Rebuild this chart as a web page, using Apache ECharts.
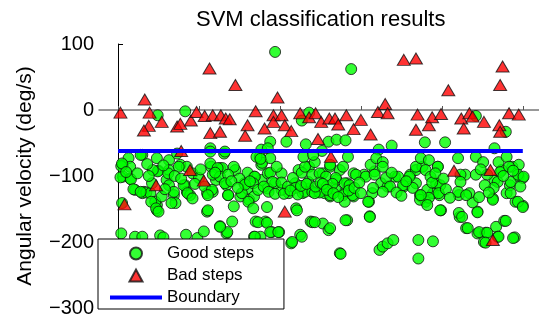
<!DOCTYPE html>
<html>
<head>
<meta charset="utf-8">
<script src="https://cdn.jsdelivr.net/npm/echarts@6/dist/echarts.min.js"></script>
<style>
  html, body { margin: 0; padding: 0; background: #fff; }
  #chart { width: 539px; height: 320px; }
</style>
</head>
<body>
<div id="chart"></div>
<script>
// step index, angular velocity (deg/s)
const goodSteps = [
  [194,88],[288,62],[49,-8],[83,-2],[227,-16],[236,-4],[114,-58],[131,-66],[188,-48],[208,-48],
  [232,-52],[260,-48],[270,-45],[281,-46],[338,-54],[322,-60],[379,-49],[404,-49],[442,-9],[479,-33],
  [465,-58],[252,-62],[177,-60],[185,-58],
  [30,-68],[13,-73],[6,-83],[15,-86],[6,-101],[15,-104],[21,-121],[32,-124],[30,-126],[35,-125],
  [40,-126],[48,-73],[50,-92],[42,-111],[63,-76],[63,-91],[60,-106],[63,-114],[48,-144],[48,-152],
  [46,-139],[69,-129],[71,-141],[77,-83],[85,-86],[83,-114],[85,-124],[89,-129],[110,-154],[4,-187],
  [21,-192],[30,-192],[52,-190],[56,-193],[84,-189],[98,-194],[106,-184],[5,-141],[73,-66],[28,-68],
  [4,-85],[3,-102],[16,-105],[19,-120],[28,-124],[41,-139],[47,-149],[50,-154],[49,-93],[43,-91],
  [62,-96],[69,-124],[66,-141],[54,-131],[75,-86],[81,-114],[86,-126],[92,-134],[110,-126],[117,-124],
  [111,-152],[126,-176],[134,-187],[143,-146],[141,-169],[136,-129],[126,-88],[115,-86],[145,-91],[156,-111],
  [162,-136],[170,-169],[182,-169],[168,-192],[176,-192],[190,-185],[199,-185],[214,-202],[225,-189],[220,-149],
  [238,-169],[253,-172],[260,-182],[283,-167],[311,-161],[310,-139],[314,-126],[274,-217],[323,-212],[327,-207],
  [333,-202],[340,-197],[371,-197],[371,-225],[389,-199],[399,-152],[422,-162],[430,-179],[444,-154],[444,-187],
  [454,-186],[452,-200],[467,-177],[469,-192],[477,-168],[490,-193],[491,-139],[500,-145],[463,-134],[480,-126],
  [484,-114],[495,-101],[500,-103],[438,-140],[434,-126],[421,-129],[429,-98],[442,-98],[465,-106],[474,-91],
  [487,-86],[495,-83],
  [291,-96],[304,-98],[317,-93],[312,-83],[325,-111],[333,-116],[342,-101],[353,-116],[361,-98],[368,-111],
  [374,-131],[380,-139],[389,-126],[393,-111],[397,-129],[368,-91],[376,-86],[395,-86],[279,-126],[283,-111],
  [291,-131],[270,-106],[262,-131],[255,-126],[247,-124],[236,-119],[228,-126],[219,-111],[211,-126],[202,-121],
  [194,-111],[185,-119],[177,-106],[168,-101],[160,-119],[151,-131],[223,-91],[236,-86],[253,-96],[262,-86],
  [274,-91],[202,-96],[185,-96],[177,-83],[168,-131],[92,-96],[100,-103],[107,-116],[121,-106],[129,-88],
  [134,-114],[143,-86],
  [114,-81],[123,-88],[117,-98],[126,-101],[136,-98],[132,-111],[116,-121],[111,-129],[136,-129],[153,-126],
  [161,-139],[167,-149],[184,-147],[173,-170],[184,-171],[135,-185],[126,-177],[169,-192],[188,-185],[198,-185],
  [215,-200],[227,-192],[221,-152],[240,-170],[175,-71],[178,-80],[160,-95],[169,-101],[167,-111],[173,-121],
  [188,-95],[191,-109],[188,-73],[196,-86],[202,-110],[210,-116],[216,-103],[219,-118],[227,-95],[231,-86],
  [235,-109],[231,-124],[240,-98],[240,-124],
  [243,-79],[262,-83],[249,-96],[257,-101],[269,-103],[278,-86],[284,-71],[280,-111],[286,-114],[249,-125],
  [243,-126],[262,-129],[269,-121],[278,-129],[280,-139],[290,-129],[294,-98],[306,-101],[317,-98],[319,-73],
  [327,-79],[327,-86],[331,-103],[336,-116],[327,-124],[315,-118],[346,-101],[352,-114],[364,-118],[360,-101],
  [368,-86],[374,-73],[373,-129],[373,-136],[309,-139],[311,-162],[281,-167],[243,-170],[262,-179],[275,-218],
  [384,-76],[395,-86],[380,-91],[386,-101],[398,-114],[396,-126],[382,-121],[384,-133],[382,-144],[398,-152],
  [374,-129],[420,-73],[423,-98],[423,-109],[420,-124],[430,-129],[421,-156],[425,-162],[432,-179],[442,-71],
  [451,-79],[456,-98],[446,-132],[444,-155],[463,-136],[446,-185],[456,-186],[470,-192],[454,-201],[479,-168],
  [488,-194],[470,-79],[472,-94],[480,-71],[483,-86],[469,-109],[464,-118],[485,-109],[494,-98],[501,-101],
  [485,-126],[494,-139],[500,-147],
  [114,-63],[132,-63],[171,-71],[176,-74],[229,-71],[241,-68],[5,-81],
  [150,-104],[157,-113],[163,-108],[180,-116],[186,-124],[194,-127],[205,-127],[213,-122],[222,-128],[226,-115],
  [233,-112],[244,-116],[250,-110],[258,-116],[265,-112],[253,-112],[258,-121],[266,-126],[272,-132],[285,-122],
  [292,-118],[298,-110],[300,-126],[338,-95],[344,-125],[350,-130],[356,-108],[388,-110],[392,-96],[402,-104],
  [405,-120],[410,-133],[448,-90],[453,-114],[458,-125],[476,-100],[488,-92],[497,-116],[10,-94],[24,-96],
  [36,-82],[38,-100],[56,-84],[58,-120],[70,-100],[78,-104],[95,-112],[102,-90],[120,-95],[140,-108],
  [148,-118]
];

const badSteps = [
  [3,-4],[33,16],[39,-4],[38,-24],[32,-31],[54,-18],[73,-25],[77,-21],[90,-16],[97,-3],
  [107,-9],[113,63],[114,-35],[117,-8],[126,-33],[127,-8],[133,-13],[138,-14],[145,38],[160,-23],
  [157,-39],[170,-2],[181,-28],[192,-8],[197,19],[192,-18],[202,-8],[206,-23],[214,-32],[225,-5],
  [236,-11],[244,-5],[247,-44],[251,-18],[261,-13],[268,-13],[272,-22],[282,-8],[291,-29],[300,-15],
  [312,-37],[321,-3],[330,9],[333,-5],[353,76],[368,78],[370,-7],[368,-30],[384,-23],[388,-11],
  [399,-6],[408,30],[424,-13],[427,-28],[434,-5],[438,-10],[452,-18],[472,38],[475,66],[471,-23],
  [472,-33],[483,-5],[495,-7],
  [78,-62],[263,-71],[415,-92],[460,-91],[8,-143],[47,-114],[89,-91],[106,-107],[206,-154],[463,-197]
];

const boundary = [[0, -62], [500, -62]];
const yTicks = [-300, -200, -100, 0, 100];
const xTicks = [0, 100, 200, 300, 400, 500];

const chart = echarts.init(document.getElementById('chart'));

const font = 'Liberation Sans, Arial, Helvetica, sans-serif';

chart.setOption({
    animation: false,
    textStyle: { fontFamily: font },
    title: {
        text: 'SVM classification results',
        left: 191,
        top: 4,
        textStyle: { fontSize: 22, fontWeight: 'normal', color: '#000', fontFamily: font }
    },
    grid: { left: 99, right: 0, top: 44, bottom: 12 },
    legend: {
        orient: 'vertical',
        left: 98,
        top: 239,
        padding: [6, 30, 3, 12],
        itemGap: 5,
        itemWidth: 52,
        itemHeight: 12,
        symbolKeepAspect: true,
        backgroundColor: '#fff',
        borderColor: '#000',
        borderWidth: 1,
        borderRadius: 0,
        textStyle: { fontSize: 17, color: '#000', fontFamily: font },
        data: [
            { name: 'Good steps', icon: 'circle' },
            { name: 'Bad steps', icon: 'path://M0,12L6.5,0L13,12Z' },
            { name: 'Boundary', icon: 'path://M0,0L52,0L52,4L0,4Z' }
        ]
    },
    xAxis: {
        type: 'value',
        min: -23.5,
        max: 520,
        splitLine: { show: false },
        axisLabel: { show: false },
        axisLine: { lineStyle: { color: '#777', width: 1.5 } },
        axisTick: { customValues: xTicks, inside: true, length: 4, lineStyle: { color: '#555' } }
    },
    yAxis: {
        type: 'value',
        min: yTicks[0],
        max: yTicks[yTicks.length - 1],
        interval: 100,
        name: 'Angular velocity (deg/s)',
        nameLocation: 'middle',
        nameGap: 63,
        nameTextStyle: { fontSize: 21, color: '#000', fontFamily: font },
        splitLine: { show: false },
        axisLine: { show: true, lineStyle: { color: '#000', width: 1 } },
        axisTick: { inside: true, length: 5, lineStyle: { color: '#000' } },
        axisLabel: {
            fontSize: 20,
            color: '#000',
            margin: 5,
            fontFamily: font,
            formatter: v => String(v).replace('-', '\u2212')
        }
    },
    series: [
        {
            name: 'Good steps',
            type: 'scatter',
            data: goodSteps,
            symbol: 'circle',
            symbolSize: 11,
            itemStyle: { color: '#00ff00', borderColor: '#111', borderWidth: 1 }
        },
        {
            name: 'Bad steps',
            type: 'scatter',
            data: badSteps,
            symbol: 'triangle',
            symbolSize: [13, 11],
            itemStyle: { color: '#ff0000', borderColor: '#111', borderWidth: 1 }
        },
        {
            name: 'Boundary',
            type: 'line',
            data: boundary,
            symbol: 'none',
            color: '#0000ff',
            lineStyle: { color: '#0000ff', width: 4 }
        }
    ]
});
</script>
</body>
</html>
